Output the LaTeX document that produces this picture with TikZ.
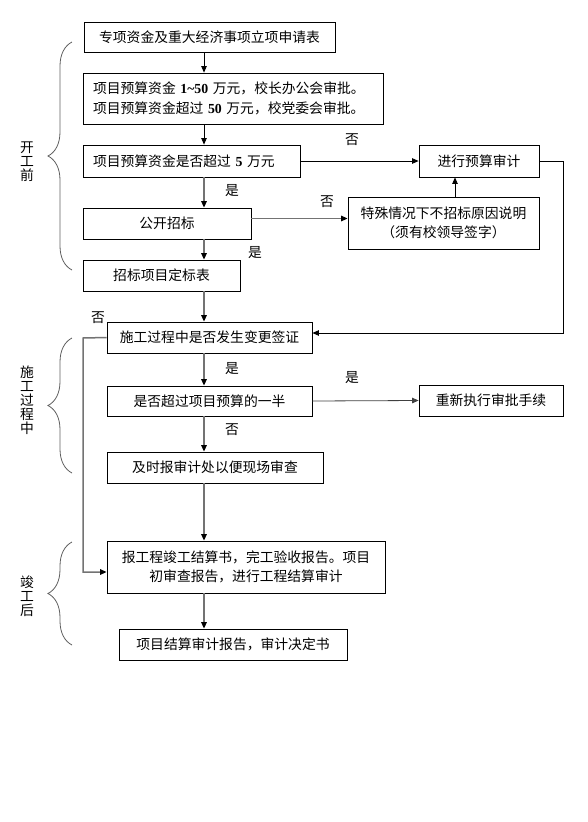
\documentclass[tikz,border=0pt]{standalone}
\usepackage{fontspec}
\setmainfont{Noto Sans CJK SC}
\newfontfamily\numfont{Liberation Serif}
\usepackage{xcolor}
\usepackage{tikz}
\usetikzlibrary{arrows.meta, positioning, calc, decorations.pathreplacing}
\definecolor{fluxgray}{RGB}{115, 115, 115}
\definecolor{bracegray}{RGB}{95, 95, 95}
\newcommand{\bnum}[1]{{\numfont\bfseries #1}}

\begin{document}
\begin{tikzpicture}[x=1pt, y=-1pt,
    box/.style={draw=black, rectangle, line width=0.8pt, inner sep=0pt, align=center, font=\fontsize{13.8}{19.5}\selectfont},
    lbl/.style={font=\fontsize{13.8}{14}\selectfont, inner sep=0pt},
    stage/.style={font=\fontsize{13.8}{14}\selectfont, align=center, inner sep=0pt},
    link/.style={draw=black, line width=0.8pt, -{Triangle[length=6.5pt, width=5.5pt]}},
    glink/.style={draw=fluxgray, line width=1.5pt, -{Triangle[length=6.5pt, width=5.5pt, color=black]}},
    curly/.style={draw=bracegray, line width=0.8pt, decorate, decoration={brace, amplitude=24pt}}
]
    \useasboundingbox (0,0) rectangle (588,822);

    % Before construction
    \node[box, minimum width=251pt, minimum height=30pt] (shenqing) at (209.5,37) {专项资金及重大经济事项立项申请表};
    \node[box, minimum width=300pt, minimum height=51pt, text width=280pt, align=left] (yusuan) at (233,98.5)
        {项目预算资金 \bnum{1\textasciitilde50} 万元，校长办公会审批。\\项目预算资金超过 \bnum{50} 万元，校党委会审批。};
    \node[box, minimum width=217pt, minimum height=32pt, text width=197pt, align=left] (chaoguo) at (191.5,161)
        {项目预算资金是否超过 \bnum{5} 万元};
    \node[box, minimum width=168pt, minimum height=31pt] (zhaobiao) at (167,223.5) {公开招标};
    \node[box, minimum width=157pt, minimum height=31pt] (dingbiao) at (161.5,275.5) {招标项目定标表};
    \node[box, minimum width=120pt, minimum height=32pt] (shenji) at (479,161) {进行预算审计};
    \node[box, minimum width=191pt, minimum height=52pt] (teshu) at (443.5,223) {特殊情况下不招标原因说明\\（须有校领导签字）};

    % During construction
    \node[box, minimum width=205pt, minimum height=31pt] (biangeng) at (209.5,337.5) {施工过程中是否发生变更签证};
    \node[box, minimum width=205pt, minimum height=30pt] (yiban) at (209.5,401) {是否超过项目预算的一半};
    \node[box, minimum width=144pt, minimum height=31pt] (chongxin) at (491,400.5) {重新执行审批手续};
    \node[box, minimum width=216pt, minimum height=31pt] (baoshen) at (215,467.5) {及时报审计处以便现场审查};

    % After completion
    \node[box, minimum width=278pt, minimum height=52pt] (jungong) at (246,567) {报工程竣工结算书，完工验收报告。项目\\初审查报告，进行工程结算审计};
    \node[box, minimum width=228pt, minimum height=31pt] (jueding) at (233,644.5) {项目结算审计报告，审计决定书};

    % Stages
    \node[stage] (kaigong) at (27,162) {开\\工\\前};
    \node[stage] (shigong) at (27,400) {施\\工\\过\\程\\中};
    \node[stage] (jungonghou) at (27,596) {竣\\工\\后};
    \draw[curly] (72,270) -- (72,42);
    \draw[curly] (72,473) -- (72,338);
    \draw[curly] (72,645) -- (72,542);

    % Labels
    \node[lbl] (fou1) at (352,140) {否};
    \node[lbl] (shi1) at (232,191) {是};
    \node[lbl] (fou2) at (327,202) {否};
    \node[lbl] (shi2) at (255,253) {是};
    \node[lbl] (fou3) at (98,318) {否};
    \node[lbl] (shi3) at (232,369) {是};
    \node[lbl] (shi4) at (352,378) {是};
    \node[lbl] (fou4) at (232,430) {否};

    % Connections
    \coordinate (mid) at (204,0);
    \coordinate (upx) at (455,0);
    \coordinate (rgt) at (563,333);
    \coordinate (lft) at (83,338);

    \draw[link] (shenqing.south -| mid) -- (yusuan.north -| mid);
    \draw[link] (yusuan.south -| mid) -- (chaoguo.north -| mid);
    \draw[glink] (chaoguo.south -| mid) -- (zhaobiao.north -| mid);
    \draw[glink] (zhaobiao.south -| mid) -- (dingbiao.north -| mid);
    \draw[glink] (dingbiao.south -| mid) -- (biangeng.north -| mid);

    \draw[link] (chaoguo.east) -- (shenji.west);
    \draw[glink] ([yshift=5pt]zhaobiao.east) -- ([yshift=5pt]zhaobiao.east -| teshu.west);
    \draw[link] (teshu.north -| upx) -- (shenji.south -| upx);
    \draw[link] (shenji.east) -| (rgt) -- (rgt -| biangeng.east);

    \draw[glink] (biangeng.south -| mid) -- (yiban.north -| mid);
    \draw[link, draw=black!75] (yiban.east) -- (chongxin.west);
    \draw[glink] (yiban.south -| mid) -- (baoshen.north -| mid);
    \draw[glink] (baoshen.south -| mid) -- (jungong.north -| mid);
    \draw[glink] (biangeng.west) -- (lft) |- ([yshift=-5pt]jungong.west);
    \draw[glink] (jungong.south -| mid) -- (jueding.north -| mid);
\end{tikzpicture}
\end{document}
